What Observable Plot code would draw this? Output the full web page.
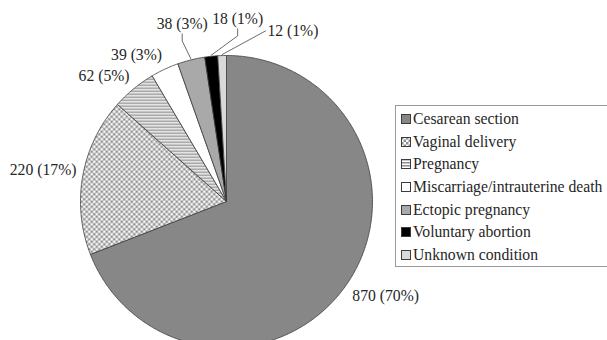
<!DOCTYPE html>
<html><head><meta charset="utf-8">
<script src="https://cdn.jsdelivr.net/npm/d3@7"></script>
<script src="https://cdn.jsdelivr.net/npm/@observablehq/plot@0.6"></script>
<style>
html,body{margin:0;padding:0;background:#fff;overflow:hidden}
#wrap{position:relative;width:607px;height:340px;overflow:hidden}
#legend{position:absolute;left:395px;top:105px;width:230px;border:1px solid #9a9a9a;padding-top:2px;font-family:"Liberation Serif","Times New Roman",serif;font-size:15.7px;color:#262626}
.item{height:22.6px;display:flex;align-items:center;white-space:nowrap}
.item svg{margin:0 2px 0 5px;flex:none}
</style></head><body><div id="wrap"></div>
<script>
// ---- data ----
const categories = ["Cesarean section","Vaginal delivery","Pregnancy","Miscarriage/intrauterine death","Ectopic pregnancy","Voluntary abortion","Unknown condition"];
const counts = [870, 220, 62, 39, 38, 18, 12];
const percentLabels = ["70%", "17%", "5%", "3%", "3%", "1%", "1%"];
// ---- styles ----
const palette = ["#878787","url(#checker)","url(#stripes)","#ffffff","#a9a9a9","#000000","#d9d9d9"];

const W = 607, H = 340, cx = 226, cy = 201, r = 146;
const R0 = 152.5;   // "outside end" anchor radius (label corner)
const Rl = 183;     // radius for relocated label centres
const FONT = 15.7, FAMILY = "Liberation Serif";

const arcs = d3.pie().sort(null).value(d => d)(counts);

// slice polygons
const slicePts = [];
arcs.forEach((a, i) => {
  slicePts.push({k: i, x: cx, y: cy});
  const n = Math.max(2, Math.ceil((a.endAngle - a.startAngle) / 0.01));
  for (let j = 0; j <= n; j++) {
    const t = a.startAngle + (a.endAngle - a.startAngle) * j / n;
    slicePts.push({k: i, x: cx + r * Math.sin(t), y: cy - r * Math.cos(t)});
  }
  slicePts.push({k: i, x: cx, y: cy});
});

// label placement
const ctx = document.createElement("canvas").getContext("2d");
ctx.font = `${FONT}px "${FAMILY}"`;
const labels = arcs.map((a, i) => {
  const text = `${counts[i]} (${percentLabels[i]})`;
  return {k: i, text, mid: (a.startAngle + a.endAngle) / 2, w: ctx.measureText(text).width, h: 16};
});
const pad = 4, placed = [];
const clamp = v => Math.max(-1, Math.min(1, v));
function mk(l, x, y) { return {x, y, l: x - l.w / 2, r: x + l.w / 2, t: y - l.h / 2, b: y + l.h / 2}; }
function defaultBox(l, a) {
  const s = Math.sin(a), c = Math.cos(a);
  const px = cx + R0 * s, py = cy - R0 * c;
  return mk(l, px + clamp(s / 0.3) * l.w / 2, py - clamp(c / 0.3) * l.h / 2);
}
function circleBox(l, a) { return mk(l, cx + Rl * Math.sin(a), cy - Rl * Math.cos(a)); }
const hits = b => placed.some(o => b.l < o.r + pad && b.r > o.l - pad && b.t < o.b + pad && b.b > o.t - pad);
for (const l of labels) {
  let b = defaultBox(l, l.mid);
  l.moved = false;
  if (hits(b)) {
    l.moved = true;
    let ang = l.mid, guard = 0;
    b = circleBox(l, ang);
    while (hits(b) && guard++ < 600) { ang += Math.PI / 720; b = circleBox(l, ang); }
  }
  Object.assign(l, b); placed.push(b);
}

// leader lines for relocated labels
const leaderPts = [];
for (const l of labels) {
  if (!l.moved) continue;
  const E = {x: cx + (r + 1) * Math.sin(l.mid), y: cy - (r + 1) * Math.cos(l.mid)};
  if (E.x < l.l - 15) {
    leaderPts.push({k: l.k, x: l.l - 2, y: l.y}, {k: l.k, ...E});
  } else if (E.x > l.r + 15) {
    leaderPts.push({k: l.k, x: l.r + 2, y: l.y}, {k: l.k, ...E});
  } else {
    leaderPts.push({k: l.k, x: l.x, y: l.b + 2}, {k: l.k, x: l.x, y: l.b + 9}, {k: l.k, ...E});
  }
}

const chart = Plot.plot({
  width: W, height: H, margin: 0,
  x: {domain: [0, W], range: [0, W], axis: null},
  y: {domain: [0, H], range: [0, H], axis: null},
  color: {type: "identity"},
  style: {background: "#fff"},
  marks: [
    Plot.line(slicePts, {x: "x", y: "y", z: "k", fill: d => palette[d.k], stroke: "#3c3c3c", strokeWidth: 0.8, strokeLinejoin: "round"}),
    Plot.line(leaderPts, {x: "x", y: "y", z: "k", stroke: "#5a5a5a", strokeWidth: 0.9}),
    Plot.text(labels, {x: "x", y: "y", text: "text", fontSize: FONT, fontFamily: FAMILY, fill: "#262626", textAnchor: "middle", lineAnchor: "middle"})
  ]
});

// patterns
const NS = "http://www.w3.org/2000/svg";
function el(tag, attrs, parent) {
  const e = document.createElementNS(NS, tag);
  for (const k in attrs) e.setAttribute(k, attrs[k]);
  if (parent) parent.appendChild(e);
  return e;
}
const defs = el("defs", {});
const pc = el("pattern", {id: "checker", patternUnits: "userSpaceOnUse", width: 5, height: 5}, defs);
el("rect", {width: 5, height: 5, fill: "#fff"}, pc);
el("rect", {x: 0, y: 0, width: 2.5, height: 2.5, fill: "#8f8f8f"}, pc);
el("rect", {x: 2.5, y: 2.5, width: 2.5, height: 2.5, fill: "#8f8f8f"}, pc);
const ps = el("pattern", {id: "stripes", patternUnits: "userSpaceOnUse", width: 4, height: 3}, defs);
el("rect", {width: 4, height: 3, fill: "#fff"}, ps);
el("rect", {x: 0, y: 0, width: 4, height: 1.5, fill: "#8f8f8f"}, ps);
chart.insertBefore(defs, chart.firstChild);

const wrap = document.getElementById("wrap");
wrap.appendChild(chart);

// legend
const legend = document.createElement("div");
legend.id = "legend";
categories.forEach((c, i) => {
  const item = document.createElement("div");
  item.className = "item";
  const s = document.createElementNS(NS, "svg");
  s.setAttribute("width", 10); s.setAttribute("height", 10);
  el("rect", {x: 0.5, y: 0.5, width: 9, height: 9, fill: palette[i], stroke: "#3c3c3c", "stroke-width": 1}, s);
  item.appendChild(s);
  const t = document.createElement("span");
  t.textContent = c;
  item.appendChild(t);
  legend.appendChild(item);
});
wrap.appendChild(legend);
</script>
</body></html>
